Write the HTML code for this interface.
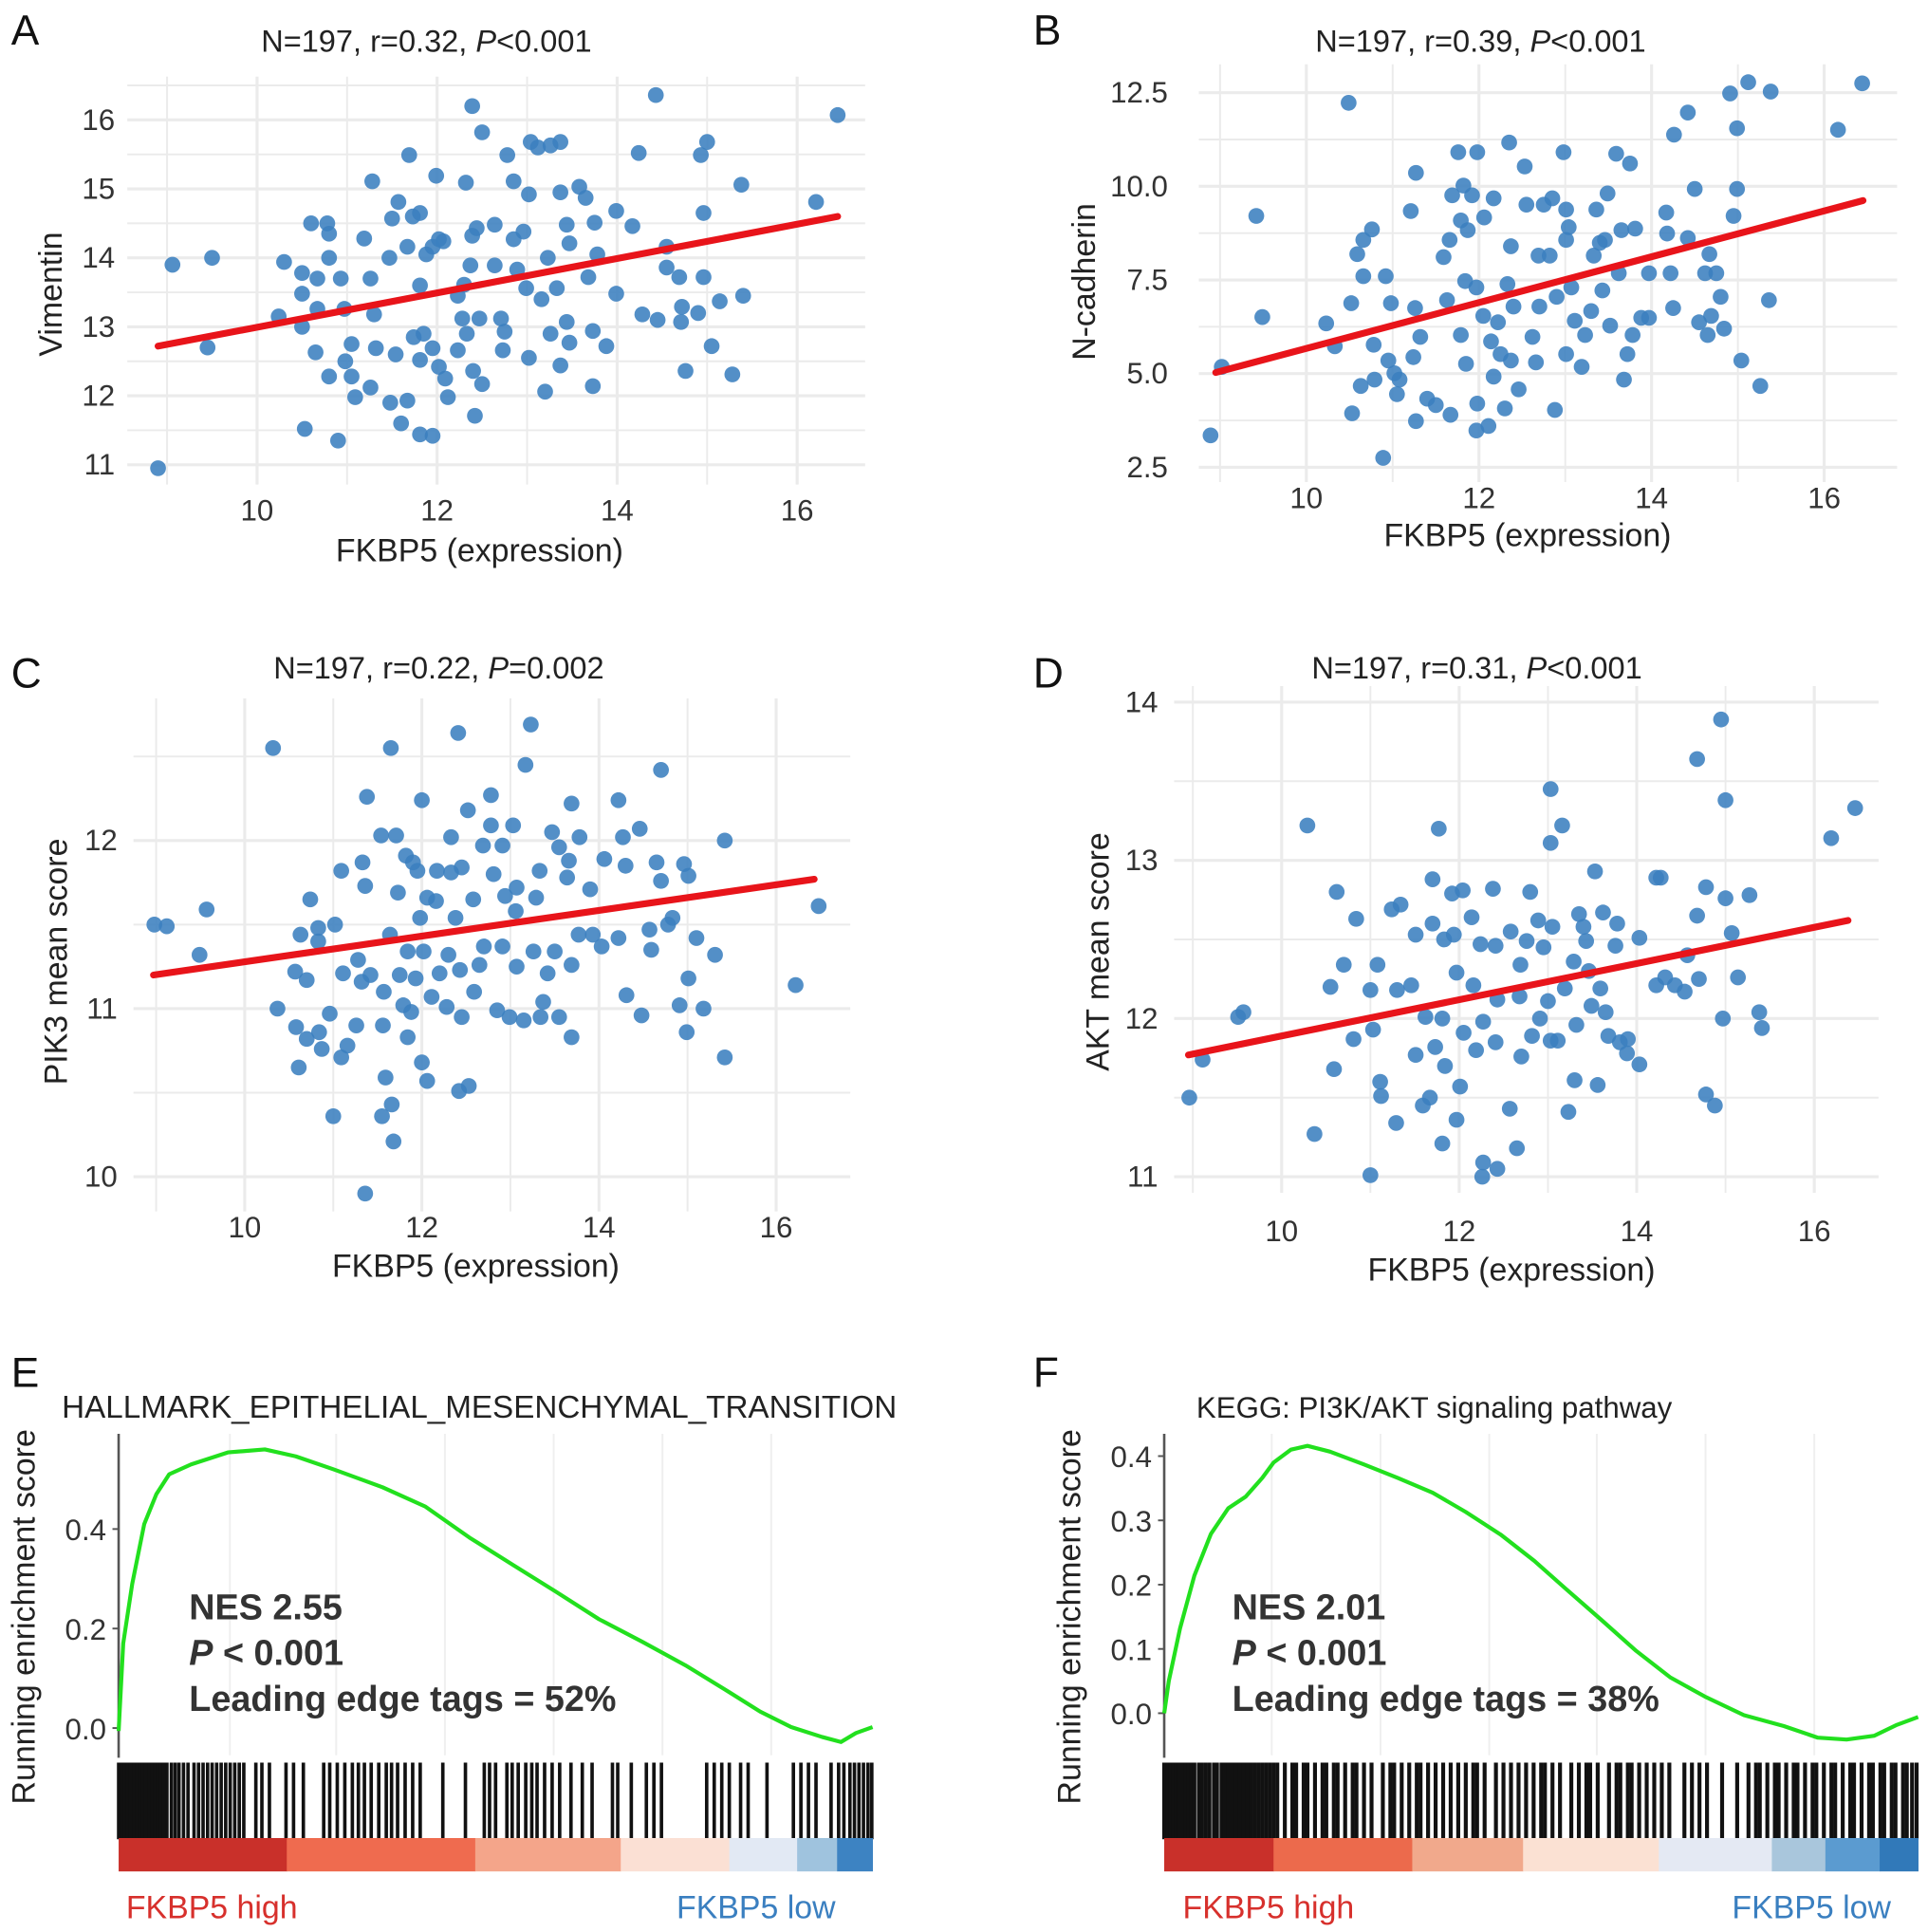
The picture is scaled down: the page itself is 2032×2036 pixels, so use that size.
<!DOCTYPE html>
<html><head><meta charset="utf-8">
<style>
html,body{margin:0;padding:0;background:#fff;}
svg{display:block;font-family:"Liberation Sans",Arial,sans-serif;}
</style></head>
<body>
<svg id="fig" width="2032" height="2036" viewBox="0 0 1560 1563" preserveAspectRatio="none" xmlns="http://www.w3.org/2000/svg">
<rect x="0" y="0" width="1560" height="1563" fill="#fff"/>
</svg>
<script>
// ---------- Panel A data ----------
const aX=[8.9,9.06,9.5,9.45,10.3,10.24,10.5,10.5,10.5,10.6,10.78,10.8,10.8,10.67,10.67,10.65,10.93,10.97,11.05,10.98,10.8,11.05,11.09,11.26,10.53,10.9,11.19,11.28,11.26,11.3,11.32,11.47,11.5,11.57,11.54,11.48,11.67,11.6,11.69,11.67,11.73,11.81,11.88,11.95,12.02,12.07,11.81,11.74,11.85,11.81,11.95,12.02,12.09,12.12,11.81,11.95,11.99,12.23,12.3,12.28,12.33,12.23,12.4,12.42,12.37,12.39,12.44,12.39,12.32,12.5,12.47,12.5,12.64,12.64,12.71,12.73,12.75,12.78,12.85,12.85,12.89,12.96,12.99,13.02,13.04,13.12,13.26,13.37,13.02,13.2,13.16,13.26,13.33,13.37,13.23,13.37,13.44,13.47,13.44,13.47,13.58,13.65,13.68,13.75,13.78,13.73,13.88,13.73,13.99,13.99,14.17,14.24,14.28,14.45,14.43,14.55,14.55,14.69,14.72,14.71,14.76,14.9,14.93,15.0,14.96,14.96,15.05,15.14,15.28,15.38,15.4,16.21,16.45];
const aY=[10.95,13.9,14.0,12.7,13.94,13.15,13.78,13.48,13.0,14.5,14.5,14.35,14.0,13.7,13.26,12.63,13.7,13.26,12.75,12.5,12.28,12.28,11.98,12.12,11.52,11.35,14.28,15.11,13.7,13.18,12.69,14.0,14.57,14.81,12.6,11.9,11.93,11.6,15.49,14.16,14.6,14.65,14.05,14.16,14.27,14.24,13.6,12.85,12.9,12.52,12.69,12.42,12.25,11.98,11.44,11.42,15.19,13.45,13.61,13.12,12.9,12.66,12.36,11.71,13.89,14.32,14.43,16.2,15.09,15.82,13.12,12.17,14.48,13.89,13.12,12.66,12.93,15.49,15.11,14.27,13.83,14.38,13.56,14.92,15.68,15.6,15.63,15.68,12.55,12.06,13.4,12.9,13.56,12.44,14.0,14.95,14.48,14.21,13.07,12.77,15.03,14.87,13.72,14.51,14.05,12.14,12.72,12.94,13.48,14.68,14.46,15.52,13.18,13.1,16.36,13.86,14.16,13.72,13.29,13.07,12.36,13.2,15.49,15.68,14.65,13.72,12.72,13.37,12.31,15.06,13.45,14.81,16.07];
const aFitX=[8.9,16.45];
const aFitY=[12.72,14.6];
const aXTicks=[10,12,14,16];
const aYTicks=[11,12,13,14,15,16];

// ---------- Panel B data ----------
const bX=[8.89,9.02,9.42,9.49,10.49,10.23,10.33,10.52,10.53,10.59,10.66,10.76,10.66,10.63,10.79,10.78,10.89,10.92,10.98,10.95,11.02,11.05,11.08,11.21,11.27,11.26,11.24,11.27,11.32,11.4,11.5,11.59,11.63,11.66,11.67,11.69,11.76,11.79,11.79,11.82,11.84,11.85,11.87,11.92,11.97,11.98,11.98,11.97,12.05,12.06,12.11,12.14,12.17,12.17,12.22,12.25,12.3,12.33,12.35,12.37,12.4,12.37,12.46,12.53,12.55,12.62,12.66,12.69,12.7,12.75,12.82,12.85,12.88,12.9,12.98,13.01,13.01,13.04,13.01,13.07,13.11,13.19,13.23,13.3,13.33,13.36,13.4,13.43,13.46,13.49,13.52,13.59,13.62,13.65,13.68,13.72,13.75,13.78,13.81,13.88,13.97,13.97,14.17,14.18,14.22,14.25,14.26,14.42,14.42,14.5,14.55,14.62,14.65,14.67,14.69,14.75,14.8,14.84,14.91,14.95,14.99,14.99,15.04,15.12,15.26,15.36,15.38,16.16,16.44];
const bY=[3.35,5.18,9.21,6.51,12.23,6.34,5.73,6.88,3.94,8.19,8.57,8.85,7.6,4.67,4.84,5.77,2.75,7.6,6.88,5.35,5.01,4.45,4.84,9.34,10.36,6.75,5.44,3.73,5.98,4.33,4.16,8.11,6.96,8.57,3.9,9.76,10.91,9.09,6.03,10.02,7.47,5.26,8.83,9.76,7.3,4.2,10.91,3.48,6.54,9.17,3.6,5.86,9.68,4.92,6.37,5.52,4.07,7.39,11.17,8.4,6.79,5.35,4.58,10.53,9.51,5.98,5.3,8.15,6.79,9.51,8.15,9.68,4.03,7.05,10.91,9.38,8.57,8.91,5.52,7.3,6.41,5.18,6.03,6.67,8.15,9.38,8.49,7.22,8.57,9.81,6.28,10.87,7.68,8.83,4.84,5.52,10.61,6.03,8.87,6.49,7.68,6.49,9.3,8.74,7.68,6.75,11.38,11.97,8.62,9.93,6.37,7.68,6.03,8.19,6.54,7.68,7.05,6.2,12.48,9.21,11.55,9.93,5.35,12.78,4.67,6.96,12.53,11.51,12.75];
const bFitX=[8.95,16.45];
const bFitY=[5.03,9.62];
const bXTicks=[10,12,14,16];
const bYTicks=[2.5,5.0,7.5,10.0,12.5];

// ---------- Panel C data ----------
const cX=[8.98,9.12,9.57,9.49,10.32,10.37,10.57,10.7,10.58,10.7,10.61,10.63,10.74,10.83,10.83,10.87,10.84,10.96,11.02,11.0,11.09,11.11,11.09,11.16,11.28,11.26,11.32,11.33,11.36,11.38,11.36,11.42,11.54,11.71,11.56,11.57,11.59,11.55,11.65,11.66,11.68,11.64,11.73,11.75,11.79,11.82,11.84,11.84,11.88,11.9,11.95,11.98,12.0,11.93,12.02,12.0,12.06,12.06,12.11,12.16,12.17,12.2,12.28,12.3,12.33,12.33,12.38,12.41,12.43,12.45,12.45,12.52,12.42,12.53,12.59,12.58,12.65,12.69,12.7,12.78,12.78,12.81,12.85,12.91,12.91,12.94,12.99,13.03,13.07,13.06,13.07,13.15,13.17,13.23,13.26,13.29,13.33,13.34,13.37,13.42,13.47,13.5,13.55,13.55,13.64,13.66,13.69,13.69,13.69,13.77,13.78,13.9,13.93,14.03,14.06,14.22,14.22,14.27,14.3,14.31,14.46,14.48,14.57,14.59,14.65,14.7,14.7,14.78,14.83,14.91,14.96,15.01,14.99,15.01,15.1,15.18,15.31,15.42,15.42,16.22,16.48];
const cY=[11.5,11.49,11.59,11.32,12.55,11.0,11.22,11.17,10.89,10.82,10.65,11.44,11.65,11.48,11.4,10.76,10.86,10.97,11.5,10.36,11.82,11.21,10.71,10.78,11.29,10.9,11.16,11.87,11.73,12.26,9.9,11.2,12.03,12.03,10.9,11.1,10.59,10.36,12.55,10.43,10.21,11.44,11.69,11.2,11.02,11.91,11.34,10.83,10.98,11.87,11.82,11.54,12.24,11.18,11.34,10.68,10.57,11.66,11.07,11.64,11.82,11.21,11.01,11.32,11.81,12.02,11.54,12.64,11.23,11.84,10.95,12.18,10.51,10.54,11.1,11.65,11.26,11.97,11.37,12.27,12.09,11.8,10.99,11.97,11.37,11.67,10.95,12.09,11.72,11.58,11.25,10.93,12.45,12.69,11.34,11.66,11.82,10.95,11.04,11.21,12.05,11.34,11.96,10.95,11.78,11.88,12.22,10.83,11.26,11.44,12.02,11.71,11.44,11.37,11.89,12.24,11.42,12.02,11.85,11.08,12.07,10.96,11.47,11.35,11.87,11.76,12.42,11.5,11.54,11.02,11.86,11.79,10.86,11.18,11.42,11.0,11.32,12.0,10.71,11.14,11.61];
const cFitX=[8.97,16.43];
const cFitY=[11.2,11.77];
const cXTicks=[10,12,14,16];
const cYTicks=[10,11,12];

// ---------- Panel D data ----------
const dX=[8.96,9.11,9.51,9.57,10.29,10.37,10.59,10.55,10.62,10.7,10.84,10.81,11.0,11.0,11.08,11.11,11.12,11.03,11.24,11.34,11.29,11.3,11.46,11.51,11.51,11.62,11.59,11.67,11.7,11.7,11.73,11.77,11.83,11.81,11.81,11.84,11.92,11.94,11.97,11.97,12.01,12.04,12.05,12.14,12.16,12.19,12.24,12.27,12.26,12.27,12.38,12.41,12.41,12.43,12.43,12.57,12.58,12.65,12.68,12.69,12.7,12.76,12.8,12.82,12.89,12.91,12.95,13.0,13.03,13.03,13.03,13.05,13.11,13.16,13.19,13.23,13.29,13.3,13.32,13.35,13.4,13.43,13.46,13.49,13.53,13.56,13.59,13.62,13.65,13.68,13.76,13.78,13.81,13.89,13.9,14.03,14.03,14.22,14.27,14.22,14.32,14.43,14.54,14.57,14.68,14.68,14.7,14.78,14.78,14.88,14.95,14.97,15.0,15.0,15.07,15.14,15.27,15.38,15.41,16.19,16.46];
const dY=[11.5,11.74,12.01,12.04,13.22,11.27,11.68,12.2,12.8,12.34,12.63,11.87,11.01,12.18,12.34,11.6,11.51,11.93,12.69,12.72,11.34,12.18,12.21,12.53,11.77,12.01,11.45,11.5,12.88,12.6,11.82,13.2,12.5,11.21,12.0,11.7,12.79,12.53,12.29,11.36,11.57,12.81,11.91,12.64,12.21,11.8,12.47,11.98,11.0,11.09,12.82,12.46,11.85,11.05,12.12,11.43,12.55,11.18,12.14,12.34,11.76,12.49,12.8,11.89,12.62,12.0,12.45,12.11,13.11,13.45,11.86,12.58,11.86,13.22,12.19,11.41,12.36,11.61,11.96,12.66,12.58,12.49,12.3,12.08,12.93,11.58,12.19,12.67,12.04,11.89,12.46,12.6,11.85,11.78,11.87,12.51,11.71,12.89,12.89,12.21,12.26,12.21,12.17,12.4,12.65,13.64,12.25,12.83,11.52,11.45,13.89,12.0,13.38,12.76,12.54,12.26,12.78,12.04,11.94,13.14,13.33];
const dFitX=[8.95,16.38];
const dFitY=[11.77,12.62];
const dXTicks=[10,12,14,16];
const dYTicks=[11,12,13,14];

// ---------- Panel E data ----------
const eRank=[0,0.006,0.018,0.034,0.05,0.067,0.096,0.145,0.194,0.235,0.285,0.35,0.407,0.465,0.523,0.58,0.637,0.695,0.752,0.81,0.851,0.892,0.933,0.958,0.978,1.0];
const eES=[-0.006,0.17,0.29,0.41,0.47,0.51,0.53,0.554,0.56,0.546,0.52,0.484,0.445,0.383,0.328,0.274,0.219,0.173,0.126,0.072,0.033,0.002,-0.018,-0.028,-0.01,0.002];
const eHits=[0,.004,.008,.012,.016,.02,.024,.028,.032,.036,.04,.044,.048,.052,.056,.06,.064,.07,.075,.08,.086,.092,.1,.106,.112,.118,.124,.13,.136,.142,.148,.154,.16,.166,.182,.19,.2,.222,.232,.245,.272,.28,.29,.3,.31,.318,.326,.335,.345,.355,.362,.37,.38,.39,.4,.43,.46,.485,.492,.5,.515,.522,.53,.54,.548,.555,.565,.575,.585,.6,.615,.628,.655,.662,.68,.7,.71,.72,.78,.79,.8,.81,.825,.835,.86,.895,.905,.915,.925,.945,.955,.962,.97,.976,.982,.988,.994,.999];
const eYTicks=[0.0,0.2,0.4];
const eSegStart=[0,0.223,0.473,0.666,0.81,0.9,0.953];
const eSegEnd=[0.223,0.473,0.666,0.81,0.9,0.953,1];
const eSegColor=["#c9302a","#ef6b4f","#f4a58a","#fbe0d4","#e2e9f4","#9fc3de","#3d83c2"];

// ---------- Panel F data ----------
const fRank=[0,0.006,0.021,0.04,0.062,0.085,0.108,0.13,0.145,0.168,0.19,0.22,0.265,0.31,0.356,0.4,0.446,0.491,0.536,0.581,0.626,0.671,0.717,0.769,0.822,0.867,0.905,0.942,0.972,1.0];
const fES=[0,0.05,0.132,0.214,0.279,0.319,0.337,0.366,0.39,0.41,0.416,0.407,0.387,0.366,0.343,0.313,0.278,0.237,0.19,0.144,0.097,0.056,0.026,-0.003,-0.02,-0.038,-0.041,-0.035,-0.018,-0.006];
const fHits=[0,.004,.008,.012,.016,.02,.024,.028,.032,.036,.04,.046,.05,.055,.06,.066,.07,.076,.08,.085,.09,.095,.1,.105,.11,.115,.12,.125,.13,.135,.14,.145,.15,.16,.17,.175,.185,.19,.2,.21,.215,.225,.23,.24,.25,.255,.265,.275,.29,.3,.305,.315,.325,.335,.34,.35,.36,.37,.38,.39,.4,.41,.415,.425,.44,.45,.46,.47,.48,.49,.5,.505,.515,.525,.54,.55,.56,.565,.575,.59,.6,.605,.615,.62,.63,.64,.65,.66,.67,.69,.7,.71,.72,.74,.76,.775,.785,.79,.8,.81,.815,.825,.835,.84,.85,.86,.865,.875,.885,.89,.9,.91,.915,.925,.935,.94,.95,.955,.965,.97,.98,.985,.992,.998];
const fYTicks=[0.0,0.1,0.2,0.3,0.4];
const fSegStart=[0,0.145,0.329,0.476,0.656,0.806,0.877,0.949];
const fSegEnd=[0.145,0.329,0.476,0.656,0.806,0.877,0.949,1];
const fSegColor=["#c9302a","#ec6a4c","#f1a98c","#fbe1d3","#e4e9f3","#a9c6dc","#5b9bd0","#3179b9"];

const NS="http://www.w3.org/2000/svg";
const svg=document.getElementById("fig");
function mk(tag,attrs,parent){const e=document.createElementNS(NS,tag);for(const k in attrs)e.setAttribute(k,attrs[k]);(parent||svg).appendChild(e);return e;}
function txt(s,attrs,parent){const t=mk("text",attrs,parent);t.textContent=s;return t;}
function lin(d0,d1,r0,r1){return v=>r0+(v-d0)*(r1-r0)/(d1-d0);}

function scatter(cfg,xs,ys,fx,fy,xt,yt){
  const g=mk("g",{});
  
  
  const X=lin(10,16,cfg.x10,cfg.x16), Y=lin(cfg.yA,cfg.yB,cfg.pyA,cfg.pyB);
  for(let v=Math.ceil(cfg.xmin);v<=cfg.xmax;v++){
    const gl=mk("line",{x1:X(v),x2:X(v),y1:cfg.top,y2:cfg.bot,stroke:"#ebebeb","stroke-width":(v%2===0)?2.4:1.5},g);
    
    
  }
  const ys0=yt[0],step=(yt[1]-yt[0])/2;
  for(let v=ys0-step*2;v<=yt[yt.length-1]+step*2+1e-9;v+=step){
    const py=Y(v); if(py<cfg.top-1||py>cfg.bot+1)continue;
    const major=Math.abs((v-ys0)/(2*step)-Math.round((v-ys0)/(2*step)))<1e-6;
    const gl=mk("line",{x1:cfg.left,x2:cfg.right,y1:py,y2:py,stroke:"#ebebeb","stroke-width":major?2.4:1.5},g);
    
    
  }
  for(let i=0;i<xs.length;i++){
    const c=mk("circle",{cx:X(xs[i]),cy:Y(ys[i]),r:6.4,fill:"#3b80bf","fill-opacity":0.88},g);
    
    
  }
  const l=mk("line",{x1:X(fx[0]),y1:Y(fy[0]),x2:X(fx[1]),y2:Y(fy[1]),stroke:"#e8141a","stroke-width":5.5,"stroke-linecap":"round"},g);
  
  
  xt.forEach(v=>{const t=txt(String(v),{x:X(v),y:cfg.xtY,"font-size":24,"text-anchor":"middle",fill:"#333"},g);
    
    });
  yt.forEach(v=>{const t=txt(cfg.yfmt?v.toFixed(1):String(v),{x:cfg.ytX,y:Y(v)+8,"font-size":24,"text-anchor":"end",fill:"#333"},g);
    
    });
  const tt=txt("",{x:cfg.titleX,y:cfg.titleY,"font-size":25,"text-anchor":"middle",fill:"#222"},g);
  
  
  tt.innerHTML=cfg.title;
  const xl=txt("FKBP5 (expression)",{x:cfg.xlX,y:cfg.xlY,"font-size":26,"text-anchor":"middle",fill:"#222"},g);
  
  
  const yl=txt(cfg.ylab,{x:0,y:0,"font-size":26,"text-anchor":"middle",fill:"#222",transform:`translate(${cfg.ylX},${cfg.ylY}) rotate(-90)`},g);
  
  
  const pl=txt(cfg.letter,{x:cfg.letX,y:cfg.letY,"font-size":34,fill:"#111"},g);
  
  
}

scatter({name:"panel-a-vimentin",x10:208,x16:645,yA:16,yB:11,pyA:97,pyB:376,left:103,right:700,top:62,bot:392,xmin:8.6,xmax:16.8,
  xtY:421,ytX:93,titleX:345,titleY:42,xlX:388,xlY:454,ylX:50,ylY:238,ylab:"Vimentin",letter:"A",letX:9,letY:36,
  title:'N=197, r=0.32, <tspan font-style="italic">P</tspan>&lt;0.001'},aX,aY,aFitX,aFitY,aXTicks,aYTicks);
scatter({name:"panel-b-n-cadherin",x10:1057,x16:1476,yA:12.5,yB:2.5,pyA:75,pyB:378,left:970,right:1535,top:52,bot:390,xmin:8.8,xmax:16.8,yfmt:true,
  xtY:411,ytX:945,titleX:1198,titleY:42,xlX:1236,xlY:442,ylX:886,ylY:228,ylab:"N-cadherin",letter:"B",letX:836,letY:36,
  title:'N=197, r=0.39, <tspan font-style="italic">P</tspan>&lt;0.001'},bX,bY,bFitX,bFitY,bXTicks,bYTicks);
scatter({name:"panel-c-pik3",x10:198,x16:628,yA:12,yB:10,pyA:680,pyB:952,left:108,right:688,top:565,bot:980,xmin:8.7,xmax:16.8,
  xtY:1001,ytX:95,titleX:355,titleY:549,xlX:385,xlY:1033,ylX:54,ylY:778,ylab:"PIK3 mean score",letter:"C",letX:9,letY:556,
  title:'N=197, r=0.22, <tspan font-style="italic">P</tspan>=0.002'},cX,cY,cFitX,cFitY,cXTicks,cYTicks);
scatter({name:"panel-d-akt",x10:1037,x16:1468,yA:14,yB:11,pyA:568,pyB:952,left:950,right:1520,top:555,bot:965,xmin:8.8,xmax:16.7,
  xtY:1004,ytX:937,titleX:1195,titleY:549,xlX:1223,xlY:1036,ylX:897,ylY:770,ylab:"AKT mean score",letter:"D",letX:836,letY:556,
  title:'N=197, r=0.31, <tspan font-style="italic">P</tspan>&lt;0.001'},dX,dY,dFitX,dFitY,dXTicks,dYTicks);

function gsea(cfg,rank,es,hits,yt,ss,se,sc){
  const g=mk("g",{});
  
  
  const X=lin(0,1,cfg.x0,cfg.x1), Y=lin(0,0.4,cfg.y0,cfg.y4);
  cfg.grid.forEach(gx=>{const gl=mk("line",{x1:gx,x2:gx,y1:1160,y2:1420,stroke:"#efefef","stroke-width":1.5},g);
    
    });
  const ax=mk("line",{x1:cfg.x0,x2:cfg.x0,y1:1160,y2:1422,stroke:"#555","stroke-width":2},g);
  
  
  yt.forEach(v=>{
    const tk=mk("line",{x1:cfg.x0-5,x2:cfg.x0,y1:Y(v),y2:Y(v),stroke:"#555","stroke-width":1.5},g);
    
    
    const t=txt(v.toFixed(1),{x:cfg.x0-10,y:Y(v)+9,"font-size":24,"text-anchor":"end",fill:"#333"},g);
    
    
  });
  let d="";rank.forEach((r,i)=>{d+=(i?"L":"M")+X(r).toFixed(1)+","+Y(es[i]).toFixed(1);});
  const p=mk("path",{d:d,fill:"none",stroke:"#22e01e","stroke-width":3.2,"stroke-linejoin":"round"},g);
  
  
  hits.forEach(h=>{const b=mk("line",{x1:X(h),x2:X(h),y1:1426,y2:1488,stroke:"#111","stroke-width":cfg.bw},g);
    
    });
  ss.forEach((s,i)=>{const r=mk("rect",{x:X(s),y:1487,width:X(se[i])-X(s)+0.3,height:27,fill:sc[i]},g);
    
    });
  const tt=txt(cfg.title,{x:cfg.titleX,y:1147,"font-size":cfg.tfs,fill:"#222"},g);
  
  
  const yl=txt("Running enrichment score",{x:0,y:0,"font-size":26,"text-anchor":"middle",fill:"#222",transform:`translate(${cfg.ylX},1308) rotate(-90)`},g);
  
  
  const n1=txt(cfg.nes,{x:cfg.nesX,y:1310,"font-size":29,fill:"#333","font-weight":"bold"},g);
  
  
  const n2=txt("",{x:cfg.nesX,y:1347,"font-size":29,fill:"#333","font-weight":"bold"},g);
  n2.innerHTML='<tspan font-style="italic">P</tspan> &lt; 0.001';
  
  
  const n3=txt(cfg.lead,{x:cfg.nesX,y:1384,"font-size":29,fill:"#333","font-weight":"bold"},g);
  
  
  const hi=txt("FKBP5 high",{x:cfg.hiX,y:1552,"font-size":26,fill:"#d7302c"},g);
  
  
  const lo=txt("FKBP5 low",{x:cfg.loX,y:1552,"font-size":26,fill:"#3a7fc0","text-anchor":"end"},g);
  
  
  const pl=txt(cfg.letter,{x:cfg.letX,y:1122,"font-size":34,fill:"#111"},g);
  
  
}

gsea({name:"panel-e-emt-gsea",x0:96,x1:706,y0:1398,y4:1237,grid:[186,272,360,448,536,624],bw:2.8,tfs:25.5,title:"HALLMARK_EPITHELIAL_MESENCHYMAL_TRANSITION",titleX:50,
  ylX:28,nes:"NES 2.55",lead:"Leading edge tags = 52%",nesX:153,hiX:102,loX:676,letter:"E",letX:9},eRank,eES,eHits,eYTicks,eSegStart,eSegEnd,eSegColor);
gsea({name:"panel-f-pi3k-akt-gsea",x0:942,x1:1552,y0:1386,y4:1178,grid:[1029,1117,1205,1292,1380,1468],bw:3.2,tfs:24,title:"KEGG: PI3K/AKT signaling pathway",titleX:968,
  ylX:874,nes:"NES 2.01",lead:"Leading edge tags = 38%",nesX:997,hiX:957,loX:1530,letter:"F",letX:836},fRank,fES,fHits,fYTicks,fSegStart,fSegEnd,fSegColor);
</script>
</body></html>
